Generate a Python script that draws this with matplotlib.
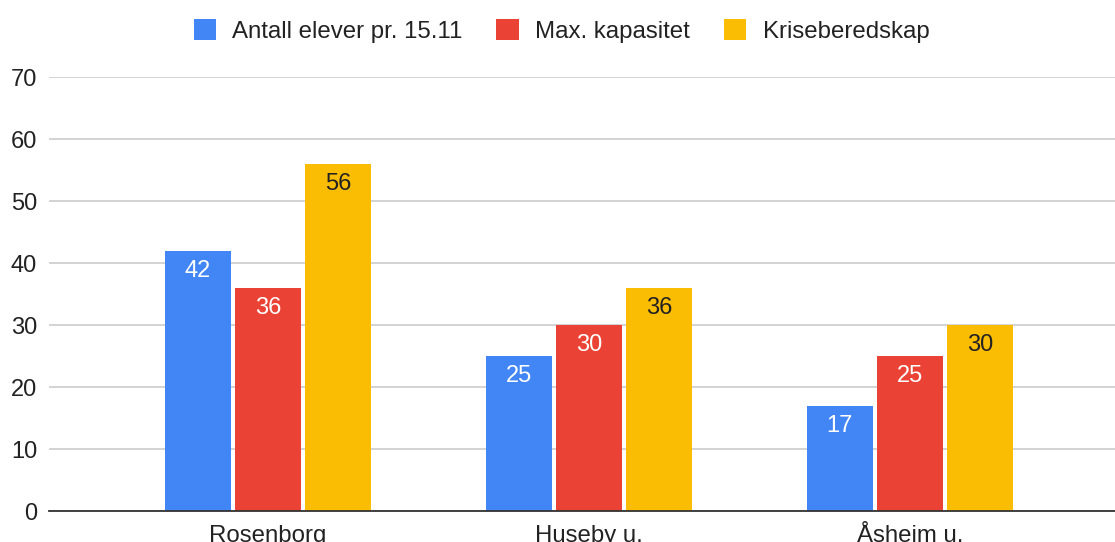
import matplotlib
matplotlib.use("Agg")
import matplotlib.pyplot as plt
import numpy as np

categories = ["Rosenborg", "Huseby u.", "Åsheim u."]
series_names = ["Antall elever pr. 15.11", "Max. kapasitet", "Kriseberedskap"]
elever = [42, 25, 17]
kapasitet = [36, 30, 25]
krise = [56, 36, 30]
yticks = [0, 10, 20, 30, 40, 50, 60, 70]

colors = ["#4285F4", "#EA4335", "#FBBC04"]
label_colors = ["white", "white", "#222222"]

plt.rcParams['font.family'] = ['Liberation Sans', 'DejaVu Sans']

fig = plt.figure(figsize=(11.15, 5.42), dpi=100)
ax = fig.add_axes([49/1115, 31/542, 1066/1115, 434/542])

x = np.arange(len(categories))
w = 66/321
step = 70/321
for i, (vals, c, lc, name) in enumerate(zip([elever, kapasitet, krise], colors, label_colors, series_names)):
    pos = x + (i - 1) * step
    bars = ax.bar(pos, vals, width=w, color=c, label=name, zorder=3)
    for b, v in zip(bars, vals):
        ax.annotate(str(v), (b.get_x() + b.get_width()/2, v), xytext=(0, -18.7),
                    textcoords="offset points", ha="center", va="baseline",
                    color=lc, fontsize=17, zorder=4)

ax.set_xlim(-0.682, 2.639)
ax.set_ylim(0, 70)
ax.set_yticks(yticks)
ax.set_yticklabels([str(t) for t in yticks], fontsize=17, color="#222222")
ax.set_xticks(x)
ax.set_xticklabels(categories, fontsize=17.3, color="#222222")
ax.tick_params(axis="x", length=0, pad=10.3)
ax.tick_params(axis="y", length=0, pad=8.6)
ax.grid(axis="y", color="#cccccc", linewidth=1.2, zorder=0)
for s in ["top", "right", "left"]:
    ax.spines[s].set_visible(False)
ax.spines["bottom"].set_color("#333333")
ax.spines["bottom"].set_linewidth(1.3)
ax.spines["bottom"].set_zorder(5)

leg = fig.legend(loc="center", bbox_to_anchor=(0.5036, 1 - 31/542), ncol=3, frameon=False,
                 fontsize=17.3, handlelength=0.92, handleheight=0.92, columnspacing=1.4,
                 handletextpad=0.7, labelcolor="#222222")

fig.savefig("out.png", dpi=100)
